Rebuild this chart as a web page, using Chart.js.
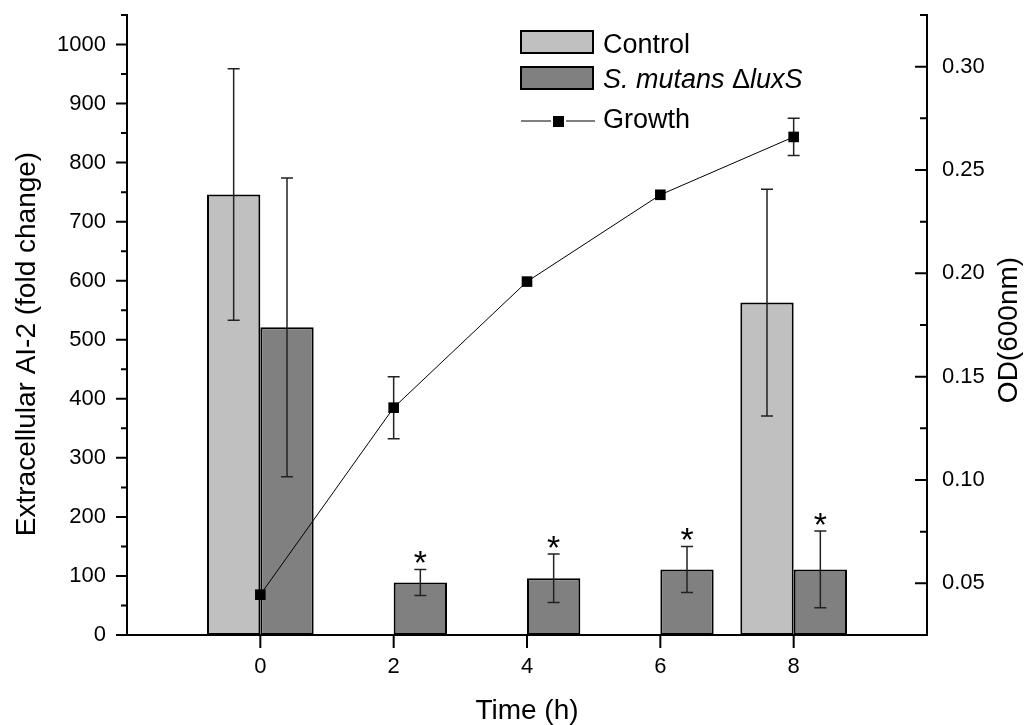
<!DOCTYPE html>
<html>
<head>
<meta charset="utf-8">
<script src="https://cdn.jsdelivr.net/npm/chart.js@4.4.0/dist/chart.umd.min.js"></script>
<style>
  html, body { margin: 0; padding: 0; background: #fff; }
  #chart { display: block; }
</style>
</head>
<body>
<canvas id="chart" width="1030" height="725"></canvas>
<script>
// values
const times = [0, 2, 4, 6, 8];
const controlAI2 = [746, null, null, null, 563];
const controlErr = [213, null, null, null, 192];
const mutantAI2 = [521, 89, 96, 111, 111];
const mutantErr = [253, 22, 41, 39, 65];
const significant = [false, true, true, true, true];
const growthOD = [0.0445, 0.135, 0.196, 0.238, 0.266];
const growthErr = [0, 0.015, 0, 0, 0.009];

// axis ticks
const xTicks = [0, 2, 4, 6, 8];
const leftTicks = [0, 100, 200, 300, 400, 500, 600, 700, 800, 900, 1000];
const leftMinor = [50, 150, 250, 350, 450, 550, 650, 750, 850, 950, 1050];
const rightTicks = [0.05, 0.10, 0.15, 0.20, 0.25, 0.30];
const rightMinor = [0.075, 0.125, 0.175, 0.225, 0.275, 0.325];

const FONT = '"Liberation Sans", Arial, Helvetica, sans-serif';
Chart.defaults.font.family = FONT;
Chart.defaults.color = '#000';

function toPoints(ys) {
  return times.map((t, i) => ({ x: t, y: ys[i] }));
}

function errBar(ctx, x, top, bottom, cap) {
  ctx.beginPath();
  ctx.moveTo(x, top);
  ctx.lineTo(x, bottom);
  ctx.moveTo(x - cap, top);
  ctx.lineTo(x + cap, top);
  ctx.moveTo(x - cap, bottom);
  ctx.lineTo(x + cap, bottom);
  ctx.stroke();
}

// error bars, asterisks, tick marks, legend and side titles
const extras = {
  id: 'extras',
  beforeDatasetDraw(chart, args) {
    if (args.index !== 2) return;
    const ctx = chart.ctx, y1 = chart.scales.y1;
    ctx.save();
    ctx.strokeStyle = '#222';
    ctx.lineWidth = 1.5;
    args.meta.data.forEach((pt, i) => {
      if (!growthErr[i]) return;
      errBar(ctx, pt.x, y1.getPixelForValue(growthOD[i] + growthErr[i]),
        y1.getPixelForValue(growthOD[i] - growthErr[i]), 6);
    });
    ctx.restore();
  },
  afterDatasetDraw(chart, args) {
    if (args.index > 1) return;
    const ctx = chart.ctx, y = chart.scales.y;
    const vals = args.index === 0 ? controlAI2 : mutantAI2;
    const errs = args.index === 0 ? controlErr : mutantErr;
    ctx.save();
    ctx.strokeStyle = '#222';
    ctx.lineWidth = 1.5;
    args.meta.data.forEach((bar, i) => {
      if (vals[i] == null) return;
      const top = y.getPixelForValue(vals[i] + errs[i]);
      errBar(ctx, bar.x, top, y.getPixelForValue(vals[i] - errs[i]), 6);
      if (args.index === 1 && significant[i]) {
        ctx.fillStyle = '#000';
        ctx.font = '34px ' + FONT;
        ctx.textAlign = 'center';
        ctx.textBaseline = 'alphabetic';
        ctx.fillText('*', bar.x, top + 5);
      }
    });
    ctx.restore();
  },
  afterDraw(chart) {
    const ctx = chart.ctx;
    const { x, y, y1 } = chart.scales;
    const area = chart.chartArea;
    ctx.save();
    ctx.strokeStyle = '#000';
    ctx.lineWidth = 2;
    ctx.beginPath();
    leftTicks.forEach(v => { const p = y.getPixelForValue(v); ctx.moveTo(area.left - 11, p); ctx.lineTo(area.left, p); });
    leftMinor.forEach(v => { const p = y.getPixelForValue(v); ctx.moveTo(area.left - 6, p); ctx.lineTo(area.left, p); });
    rightTicks.forEach(v => { const p = y1.getPixelForValue(v); ctx.moveTo(area.right - 12, p); ctx.lineTo(area.right, p); });
    rightMinor.forEach(v => { const p = y1.getPixelForValue(v); ctx.moveTo(area.right - 7, p); ctx.lineTo(area.right, p); });
    xTicks.forEach(v => { const p = x.getPixelForValue(v); ctx.moveTo(p, area.bottom); ctx.lineTo(p, area.bottom + 13); });
    ctx.stroke();

    // legend
    ctx.lineWidth = 2;
    ctx.fillStyle = '#c0c0c0';
    ctx.fillRect(521, 31, 72, 22);
    ctx.strokeRect(521, 31, 72, 22);
    ctx.fillStyle = '#808080';
    ctx.fillRect(521, 67, 72, 22);
    ctx.strokeRect(521, 67, 72, 22);
    ctx.lineWidth = 1;
    ctx.beginPath();
    ctx.moveTo(521, 121); ctx.lineTo(551, 121);
    ctx.moveTo(566, 121); ctx.lineTo(595, 121);
    ctx.stroke();
    ctx.fillStyle = '#000';
    ctx.fillRect(553, 116, 11, 11);

    ctx.textAlign = 'left';
    ctx.textBaseline = 'alphabetic';
    ctx.font = '27px ' + FONT;
    ctx.fillText('Control', 603, 53);
    ctx.fillText('Growth', 603, 128);
    const parts = [['S. mutans ', 'italic '], ['\u0394', ''], ['luxS', 'italic ']];
    let tx = 603;
    parts.forEach(([txt, style]) => {
      ctx.font = style + '27px ' + FONT;
      ctx.fillText(txt, tx, 88);
      tx += ctx.measureText(txt).width;
    });

    // side titles
    ctx.font = '28px ' + FONT;
    ctx.textAlign = 'center';
    ctx.textBaseline = 'middle';
    ctx.translate(27, 344);
    ctx.rotate(-Math.PI / 2);
    ctx.fillText('Extracellular AI-2 (fold change)', 0, 0);
    ctx.setTransform(1, 0, 0, 1, 0, 0);
    ctx.translate(1009, 330);
    ctx.rotate(-Math.PI / 2);
    ctx.fillText('OD(600nm)', 0, 0);
    ctx.restore();
  }
};

const chart = new Chart(document.getElementById('chart'), {
  type: 'bar',
  data: {
    datasets: [{
      label: 'Control',
      data: toPoints(controlAI2),
      backgroundColor: '#c0c0c0',
      borderColor: '#000',
      borderWidth: 2,
      borderSkipped: false,
      yAxisID: 'y',
      order: 2
    }, {
      label: 'S. mutans \u0394luxS',
      data: toPoints(mutantAI2),
      backgroundColor: '#808080',
      borderColor: '#000',
      borderWidth: 2,
      borderSkipped: false,
      yAxisID: 'y',
      order: 2
    }, {
      type: 'line',
      label: 'Growth',
      data: toPoints(growthOD),
      borderColor: '#000',
      borderWidth: 1,
      pointStyle: 'rect',
      pointRadius: 7.5,
      pointBackgroundColor: '#000',
      pointBorderWidth: 0,
      tension: 0,
      yAxisID: 'y1',
      order: 1
    }]
  },
  options: {
    responsive: false,
    animation: false,
    devicePixelRatio: 1,
    layout: { padding: { top: 15 } },
    datasets: { bar: { categoryPercentage: 0.8, barPercentage: 1.0 } },
    plugins: { legend: { display: false }, tooltip: { enabled: false } },
    scales: {
      x: {
        type: 'linear',
        min: -2,
        max: 10,
        offset: false,
        grid: { display: false, drawTicks: false },
        border: { display: true, color: '#000', width: 2 },
        ticks: { font: { size: 22 }, color: '#000', padding: 19, maxRotation: 0, autoSkip: false },
        afterBuildTicks: s => { s.ticks = xTicks.map(v => ({ value: v })); },
        afterFit: s => { s.height = 90; s.paddingLeft = 0; s.paddingRight = 0; },
        title: { display: true, text: 'Time (h)', color: '#000', font: { size: 28, lineHeight: 1 }, padding: { top: 0, bottom: 0 } }
      },
      y: {
        position: 'left',
        min: 0,
        max: 1050,
        grid: { display: false, drawTicks: false },
        border: { display: true, color: '#000', width: 2 },
        ticks: { font: { size: 22 }, color: '#000', padding: 21, autoSkip: false, callback: v => String(v) },
        afterBuildTicks: s => { s.ticks = leftTicks.map(v => ({ value: v })); },
        afterFit: s => { s.width = 127; s.paddingTop = 0; s.paddingBottom = 0; }
      },
      y1: {
        position: 'right',
        min: 0.025,
        max: 0.325,
        grid: { display: false, drawTicks: false },
        border: { display: true, color: '#000', width: 2 },
        ticks: { font: { size: 22 }, color: '#000', padding: 15, autoSkip: false, callback: v => v.toFixed(2) },
        afterBuildTicks: s => { s.ticks = rightTicks.map(v => ({ value: v })); },
        afterFit: s => { s.width = 103; s.paddingTop = 0; s.paddingBottom = 0; }
      }
    }
  },
  plugins: [extras]
});
</script>
</body>
</html>
